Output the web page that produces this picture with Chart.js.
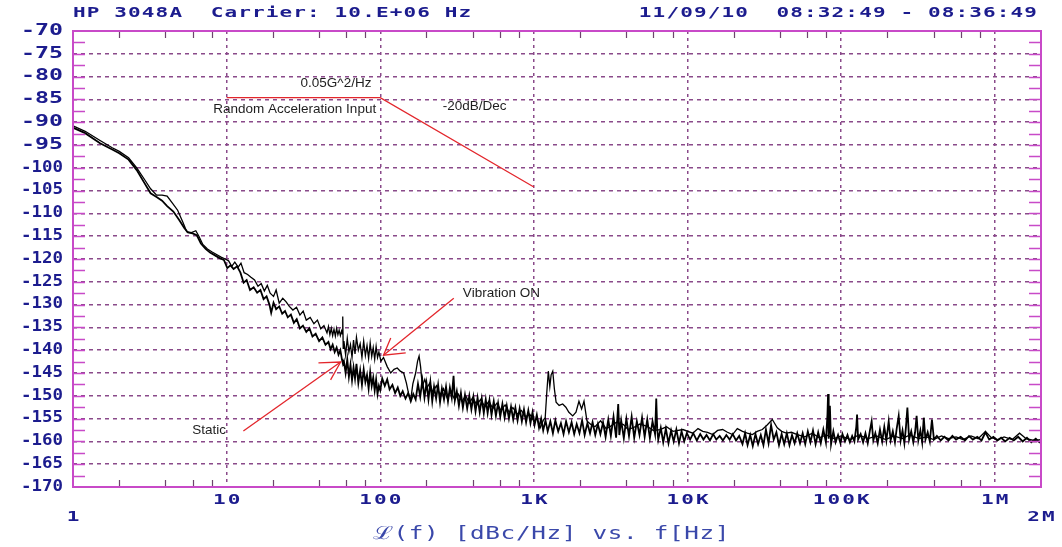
<!DOCTYPE html>
<html>
<head>
<meta charset="utf-8">
<title>HP 3048A phase noise</title>
<script src="https://cdn.jsdelivr.net/npm/chart.js@4.4.1/dist/chart.umd.min.js"></script>
<style>
  html, body { margin: 0; padding: 0; background: #fff; }
  .wrap { position: relative; width: 1062px; height: 547px; }
</style>
</head>
<body>
<div class="wrap"><canvas id="pn" width="1062" height="547"></canvas></div>
<script>
// axis ticks
const freqTicks = [1, 10, 100, 1000, 10000, 100000, 1000000, 2000000];
const freqTickLabels = ['1', '10', '100', '1K', '10K', '100K', '1M', '2M'];
const headerLeft = 'HP 3048A  Carrier: 10.E+06 Hz';
const headerRight = '11/09/10  08:32:49 - 08:36:49';
const axisTitle = 'ℒ(f) [dBc/Hz] vs. f[Hz]';

// [Hz, dBc/Hz]
const vibrationOn = [
  [1,-90.8],[1.2,-92],[1.5,-94],[1.8,-95.6],[2,-96.4],[2.3,-97.8],[2.6,-100],[2.9,-102.4],
  [3.2,-104.6],[3.5,-106],[3.8,-106],[4.1,-106.2],[4.4,-107.6],[4.8,-109.3],[5.2,-112],
  [5.5,-114],[5.9,-114.2],[6.3,-113.8],[6.6,-115],[7,-116.8],[7.5,-117.8],[8,-118.4],
  [8.6,-119],[9.2,-119.6],[9.8,-120],[10.3,-120.4],[10.8,-121.6],[11.3,-120.7],[11.9,-121.8],
  [12.4,-120.9],[13,-123],[13.7,-123.4],[14.4,-124],[15.2,-124.6],[16,-126],[16.8,-125.4],
  [17.6,-127],[18.4,-125.8],[19.2,-127.5],[20.2,-128.2],[21,-126.8],[22,-129.7],[23.2,-128.6],
  [24.4,-129.4],[25.6,-130.4],[27,-131.2],[28.5,-130.6],[30,-132.3],[31.5,-131.4],[33,-133.4],
  [35,-132.8],[37,-134.2],[39,-133.4],[41,-135.3],[43,-134.6],[45,-136.2],[46,-134.8],
  [47,-136.6],[48,-135.2],[49,-136.8],[50,-135.4],[51,-136.9],[52,-135.2],[53,-136.6],
  [54,-135.6],[55,-136.8],[56,-135.8],[56.6,-136.4],[57,-132.6],[57.4,-139.6],
  [58,-138],[59.5,-141],[61,-137.4],[62.5,-140.4],[64,-138.8],[65.5,-141.6],[67,-137.8],
  [68.5,-140.8],[70,-137.2],[72,-140],[74,-138.6],[76,-141.6],[78,-138],[80,-141.2],
  [82,-139],[84,-141.8],[86,-138.4],[88,-141.4],[90,-139.4],[92,-142],[94,-139.2],
  [96,-141.6],[98,-140.4],[101,-142.4],[105,-141.6],
  [111,-143.6],[117,-145],[123,-144.2],[129,-143.9],[135,-144.6],[142,-145],[148,-147.2],
  [154,-150],[158,-150.8],[163,-147.4],[170,-145],[175,-142.4],[179,-141.3],[183,-143.6],
  [188,-147.9],[195,-146.4],[202,-148.2],[210,-147.2],[220,-149.2],[232,-147.8],[245,-149.8],
  [258,-148.4],[272,-150.4],[288,-149],[305,-150.8],[322,-149.6],[340,-151.2],[360,-150],
  [380,-151.6],[400,-150.4],[425,-152],[450,-150.8],[480,-152.4],[510,-151.2],[540,-152.8],
  [575,-151.6],[610,-153.2],[650,-152],[690,-153.6],[730,-152.6],[780,-154],[830,-153.2],
  [880,-154.6],[940,-154],[1000,-155.6],[1050,-155],[1100,-157],[1150,-155.4],[1185,-154.8],
  [1215,-149],[1242,-144.6],[1270,-148],[1295,-145.4],[1327,-144.6],[1360,-148.5],[1395,-151.4],
  [1460,-152.1],[1540,-151.8],[1615,-152.5],[1690,-153.6],[1790,-154.4],[1880,-153.6],
  [1965,-151.2],[2045,-152.9],[2120,-151.2],[2215,-155.5],[2350,-156.3],[2500,-156.8],
  [2720,-155.5],[2950,-157.2],[3150,-156.7],[3450,-155.8],[3830,-156.3],[4100,-157.4],
  [4430,-157],[4900,-156.2],[5460,-156.7],[6000,-157.6],[6630,-157.4],[7300,-156.8],
  [8050,-157.8],[9330,-157.4],[10830,-158.2],[11700,-157.2],[12570,-157.8],[13500,-158],
  [14600,-158.5],[15700,-157.6],[16930,-157.4],[18200,-158],[19650,-158.5],[21100,-157.2],
  [22800,-157.8],[24500,-158.2],[26470,-158.5],[28400,-157.8],[30700,-157.4],[33000,-156.4],
  [35650,-155.2],[38400,-157],[41000,-157.8],[44000,-158.2],[47500,-158],[51800,-158.5],
  [58000,-159],[65000,-158.2],[72000,-159.2],[80000,-158.6],[90000,-159.4],[100000,-158.8],
  [115000,-159.6],[130000,-158.6],[150000,-159.4],[170000,-158.8],[195000,-159.6],[220000,-158.8],
  [250000,-159.4],[280000,-158.6],[320000,-159.4],[360000,-159],[400000,-159.6],[450000,-158.8],
  [500000,-159.4],[560000,-159],[620000,-159.6],[700000,-158.8],[780000,-159.4],[870000,-157.8],
  [950000,-159.2],[1050000,-159.6],[1150000,-159],[1300000,-159.6],[1450000,-158.2],[1600000,-159.4],
  [1800000,-159.8],[2000000,-159.6]
];

const staticTrace = [
  [1,-91.2],[1.2,-92.4],[1.5,-94.6],[1.8,-96],[2,-96.8],[2.3,-98.2],[2.6,-100.5],[2.9,-103.2],
  [3.2,-105.6],[3.5,-106.4],[3.8,-107.2],[4.1,-108.4],[4.5,-109.6],[4.9,-111.4],[5.3,-113.2],
  [5.6,-114.2],[6,-114.4],[6.4,-114.8],[6.8,-116.6],[7.3,-117.8],[7.8,-118.6],[8.4,-119.2],
  [9,-119.8],[9.6,-120.2],[10.1,-122],[10.6,-121.4],[11.1,-122.2],[11.7,-121.6],[12.3,-123],
  [12.9,-125.2],[13.5,-124.6],[14.2,-126.8],[15,-126.2],[15.8,-127.4],[16.6,-126.8],[17.4,-128.8],
  [18.2,-128.2],[19,-130],[19.5,-131.8],[20.2,-129.6],[21,-131],[22,-130.4],[23,-132],[24,-131.4],
  [25,-132.8],[26.2,-132.2],[27.4,-134],[28.6,-133.2],[30,-135.2],[31.4,-134.6],[33,-136],
  [34.6,-135.2],[36.2,-137],[38,-136.4],[40,-138],[42,-137.2],[44,-138.8],[46,-138.2],
  [47.5,-139.8],[49,-138.8],[50.5,-140.4],[52,-139.4],[53.5,-141],[55,-140],[56.3,-142],[57.2,-143],
  [58,-142.4],[59.5,-145],[61,-142],[62.5,-145.8],[64,-143.2],[65.5,-146.6],[67,-143.8],
  [68.5,-146.2],[70,-143],[72,-147.2],[74,-144.4],[76,-147.6],[78,-144.2],[80,-147],
  [82,-145.4],[84,-148.4],[86,-144.8],[88,-147.8],[90,-146],[92,-148.8],[94,-146.4],[96,-149.6],
  [98,-147.8],[100,-148.8],[103,-146.2],[107,-147.8],[111,-146.4],[115,-148.6],[120,-147.6],
  [125,-149.4],[130,-148.2],[135,-150],[140,-149],[146,-150.6],[152,-149.4],[158,-151.2],
  [164,-149.6],[170,-150.8],[176,-147.4],[182,-150.2],[188,-146.6],[194,-150.4],[200,-147.2],
  [206,-150.8],[212,-147],[218,-151.2],[224,-148],[231,-150.6],[238,-147.6],[245,-151.4],
  [252,-148.4],[260,-150.8],[268,-148],[276,-151.2],[284,-148.2],[292,-150.4],[300,-145.6],
  [306,-151],[315,-149],[325,-152.2],[335,-149.4],[345,-152.6],[356,-149.8],[368,-152.8],
  [380,-150],[392,-153],[404,-150.2],[417,-153.4],[430,-150.4],[444,-153.6],[458,-150.6],
  [472,-153.8],[486,-150.8],[500,-153.8],[514,-151],[530,-154.2],[548,-151.2],[566,-154.4],
  [585,-151.6],[604,-154.6],[624,-151.8],[645,-154.8],[666,-152.2],[688,-155],[710,-152.4],
  [734,-155.2],[758,-152.6],[783,-155.4],[808,-152.8],[835,-155.6],[862,-153],[890,-155.8],
  [920,-153.2],[950,-156],[980,-153.6],[1010,-156.4],[1045,-154.2],[1080,-157],[1115,-155],
  [1150,-157.6],[1190,-155.4],
  [1230,-157.8],[1280,-155.6],[1330,-158.2],[1380,-155.4],[1440,-157.8],[1500,-156],[1560,-158.4],
  [1620,-155.6],[1690,-158],[1760,-155.8],[1830,-158.4],[1900,-156.2],[1980,-158.2],[2060,-155.4],
  [2140,-158.6],[2230,-156],[2320,-158.2],[2410,-155.8],[2510,-158.6],[2610,-156.2],[2710,-158.4],
  [2820,-155.8],[2930,-159],[3050,-155.2],[3170,-158.8],[3300,-154.6],[3430,-159.2],[3540,-151.8],
  [3600,-158.6],[3700,-155.4],[3850,-159.3],[4000,-155],[4160,-158.8],[4330,-154.6],[4500,-159.2],
  [4680,-155.6],[4870,-158.6],[5060,-154.8],[5260,-159],[5470,-155.2],[5690,-159.3],[5920,-155.6],
  [6150,-158.4],[6260,-150.6],[6350,-157.2],[6450,-159.6],[6700,-157],[6950,-160.2],[7230,-157.2],
  [7520,-160.4],[7820,-157.6],[8130,-160],[8460,-157.4],[8800,-160.4],[9150,-157.8],[9520,-160],
  [9900,-158.2],[10400,-159.6],[10900,-158.2],[11500,-159.8],[12100,-158.4],[12700,-159.6],
  [13300,-158.6],[14000,-159.8],[14700,-158.4],[15400,-159.6],[16200,-158.8],[17000,-159.8],
  [17900,-158.6],[18800,-159.6],[19700,-158.4],[20700,-159.8],[21700,-158.8],[22800,-160.6],
  [23700,-158.2],[24600,-160.8],[25600,-158.6],[26600,-161],[27700,-158.4],[28800,-160.6],
  [30000,-158.6],[31200,-160.8],[32400,-157.4],[33700,-160.4],[35000,-156.4],[36400,-159.6],
  [37900,-158],[39400,-160.8],[41000,-158.4],[42600,-160.6],[44300,-158.2],[46100,-160.8],
  [47900,-158.6],[49800,-160.4],[51800,-158.2],[54000,-160.4],[56200,-158.2],[58400,-160.6],
  [60700,-157.8],[63100,-160.2],[65600,-157.6],[68200,-160.6],[70900,-158],[73700,-160.4],
  [76600,-157.4],[79600,-160.2],[81500,-154],[82200,-149.6],[83000,-159.4],[84500,-152.2],
  [86000,-160.6],[89000,-157.8],[92000,-160.2],[95500,-158.6],[99000,-160.4],[102000,-158.4],
  [106000,-160],[110000,-158.6],[114000,-160.2],[118000,-158.8],[122000,-160],[125500,-156.8],
  [127000,-154.1],[129000,-159.6],[134000,-158.4],[139000,-160.2],[144000,-158.2],[149000,-160.4],
  [154000,-157.6],[158000,-155.6],[162000,-159.8],[167000,-158.2],[173000,-160.4],[179000,-157.4],
  [185000,-160],[191000,-156.8],[197000,-159.8],[204000,-155.6],[210000,-159.8],[217000,-157.8],
  [224000,-160.2],[230000,-157.2],[237000,-154.4],[244000,-159.8],[251000,-157.6],[258000,-160.4],
  [264000,-157],[270000,-152.6],[277000,-159.6],[286000,-157.8],[295000,-160.2],[303000,-158],
  [310000,-154.4],[318000,-159.8],[328000,-157.6],[337000,-160.2],[345000,-154.8],[354000,-159.6],
  [366000,-158],[378000,-160],[390000,-155.2],[402000,-159.6],[420000,-158.8],[445000,-159.8],
  [470000,-159],[500000,-159.8],[530000,-158.8],[560000,-159.6],[600000,-159],[640000,-159.8],
  [680000,-158.8],[720000,-159.6],[770000,-159],[820000,-159.8],[870000,-158],[920000,-159.6],
  [980000,-159],[1040000,-159.8],[1100000,-159.2],[1170000,-160],[1250000,-159.2],[1330000,-159.8],
  [1420000,-159],[1520000,-160],[1620000,-159.2],[1730000,-160.2],[1850000,-159.4],[1950000,-160.2],
  [2000000,-159.8]
];

// red hand-drawn annotations, in Hz / dB
const inputSpec = [[10,-84.6],[100,-84.6],[1000,-104.2]];
const vibArrow = [[301,-128.6],[105,-141.1]];
const vibArrowHead = [[117,-137.3],[105,-141.1],[146.5,-140.6]];
const staticArrow = [[12.85,-157.7],[55.2,-142.6]];
const staticArrowHead = [[39.6,-142.8],[55.2,-142.6],[47.5,-146.5]];

const noteText = ['0.05G^2/Hz', 'Random Acceleration Input', '-20dB/Dec', 'Vibration ON', 'Static'];
const noteHz = [30.3, 8.19, 255, 345, 5.97];
const noteDb = [-81.4, -87.1, -86.4, -127.5, -157.5];

const minorSteps = [2, 4, 6, 8];
const minorDecades = [1, 10, 100, 1000, 10000, 100000];

const toXY = pts => pts.map(([f, db]) => ({x: f, y: db}));

const BLUE = '#1c1c8e';
const FRAME = '#c84ac8';
const GRID = '#8a4a8a';
const RED = '#e3262c';
const MONO = '"DejaVu Sans Mono", monospace';

// the analyser's bitmap font is very wide: stretch mono text horizontally
function drawWide(ctx, text, x, y, align, sx, ls) {
  ctx.save();
  ctx.letterSpacing = '0px';
  const w = (ctx.measureText(text).width + ls * (text.length - 1)) * sx;
  const x0 = align === 'left' ? x : align === 'right' ? x - w : x - w / 2;
  ctx.letterSpacing = ls + 'px';
  ctx.translate(x0, y);
  ctx.scale(sx, 1);
  ctx.textAlign = 'left';
  ctx.fillText(text, 0, 0);
  ctx.restore();
}

const instrumentLook = {
  id: 'instrumentLook',
  afterDatasetsDraw(chart) {
    const {ctx, chartArea: a, scales: {x, y}} = chart;
    ctx.save();

    // minor ticks on top/bottom
    ctx.strokeStyle = '#6c446c';
    ctx.lineWidth = 1.2;
    ctx.beginPath();
    minorDecades.forEach(d => minorSteps.forEach(m => {
      const px = Math.round(x.getPixelForValue(d * m)) + 0.5;
      ctx.moveTo(px, a.top); ctx.lineTo(px, a.top + 7);
      ctx.moveTo(px, a.bottom); ctx.lineTo(px, a.bottom - 7);
    }));
    ctx.stroke();

    // minor ticks on left/right every 2.5 dB
    ctx.strokeStyle = FRAME;
    ctx.lineWidth = 1.5;
    ctx.beginPath();
    for (let v = -167.5; v < -70; v += 2.5) {
      const py = Math.round(y.getPixelForValue(v)) + 0.5;
      ctx.moveTo(a.left, py); ctx.lineTo(a.left + 12, py);
      ctx.moveTo(a.right, py); ctx.lineTo(a.right - 12, py);
    }
    ctx.stroke();

    // frame
    ctx.strokeStyle = FRAME;
    ctx.lineWidth = 2;
    ctx.strokeRect(a.left, a.top, a.right - a.left, a.bottom - a.top);

    // hand notes
    ctx.fillStyle = '#1e1e1e';
    ctx.font = '13.5px "Liberation Sans", Arial, sans-serif';
    ctx.textAlign = 'left';
    ctx.textBaseline = 'middle';
    noteText.forEach((t, i) => {
      ctx.fillText(t, x.getPixelForValue(noteHz[i]), y.getPixelForValue(noteDb[i]));
    });
    ctx.restore();
  },
  afterDraw(chart) {
    const {ctx, chartArea: a, scales: {x, y}} = chart;
    ctx.save();
    ctx.textBaseline = 'middle';
    ctx.fillStyle = BLUE;

    // header line
    ctx.font = 'bold 14px ' + MONO;
    drawWide(ctx, headerLeft, a.left, 13, 'left', 1.5, 0.75);
    drawWide(ctx, headerRight, a.right - 4, 13, 'right', 1.5, 0.75);

    // frequency labels, first and last one row lower
    freqTicks.forEach((v, i) => {
      const lower = i === 0 || i === freqTicks.length - 1;
      drawWide(ctx, freqTickLabels[i], x.getPixelForValue(v), lower ? 517 : 500, 'center', 1.5, 1.4);
    });

    // level labels, every label squeezed to one width like the instrument does
    ctx.font = 'bold 15px ' + MONO;
    y.ticks.forEach(t => {
      const label = String(t.value);
      const sx = 42 / ctx.measureText(label).width;
      drawWide(ctx, label, a.left - 10, y.getPixelForValue(t.value), 'right', sx, 0);
    });

    // axis title
    ctx.font = '18px ' + MONO;
    ctx.fillStyle = '#3a48aa';
    drawWide(ctx, axisTitle, (a.left + a.right) / 2 - 6, 534, 'center', 1.35, 0.5);
    ctx.restore();
  }
};

const redLine = (pts) => ({
  data: toXY(pts),
  borderColor: RED,
  borderWidth: 1.3,
  pointRadius: 0,
  fill: false
});

new Chart(document.getElementById('pn'), {
  type: 'line',
  data: {
    datasets: [
      redLine(inputSpec),
      redLine(vibArrow),
      redLine(vibArrowHead),
      redLine(staticArrow),
      redLine(staticArrowHead),
      {
        label: 'Vibration ON',
        data: toXY(vibrationOn),
        borderColor: '#000',
        borderWidth: 1.3,
        pointRadius: 0
      },
      {
        label: 'Static',
        data: toXY(staticTrace),
        borderColor: '#000',
        borderWidth: 1.8,
        pointRadius: 0
      }
    ]
  },
  options: {
    responsive: false,
    animation: false,
    devicePixelRatio: 1,
    layout: { padding: { top: 31, right: 21, left: 0, bottom: 0 } },
    plugins: { legend: { display: false }, tooltip: { enabled: false } },
    scales: {
      x: {
        type: 'logarithmic',
        min: 1,
        max: 2000000,
        afterBuildTicks: s => { s.ticks = freqTicks.map(v => ({value: v})); },
        afterFit: s => { s.height = 60; },
        grid: {
          color: c => (c.index === 0 || c.index === freqTicks.length - 1) ? 'rgba(0,0,0,0)' : GRID,
          lineWidth: 1.5,
          drawTicks: false
        },
        border: { display: false, dash: [3, 4] },
        ticks: { display: false, autoSkip: false }
      },
      y: {
        min: -170,
        max: -70,
        afterFit: s => { s.width = 73; },
        grid: {
          color: c => (c.tick && (c.tick.value === -70 || c.tick.value === -170)) ? 'rgba(0,0,0,0)' : GRID,
          lineWidth: 1.5,
          drawTicks: false
        },
        border: { display: false, dash: [4, 4] },
        ticks: { display: false, stepSize: 5 }
      }
    }
  },
  plugins: [instrumentLook]
});
</script>
</body>
</html>
